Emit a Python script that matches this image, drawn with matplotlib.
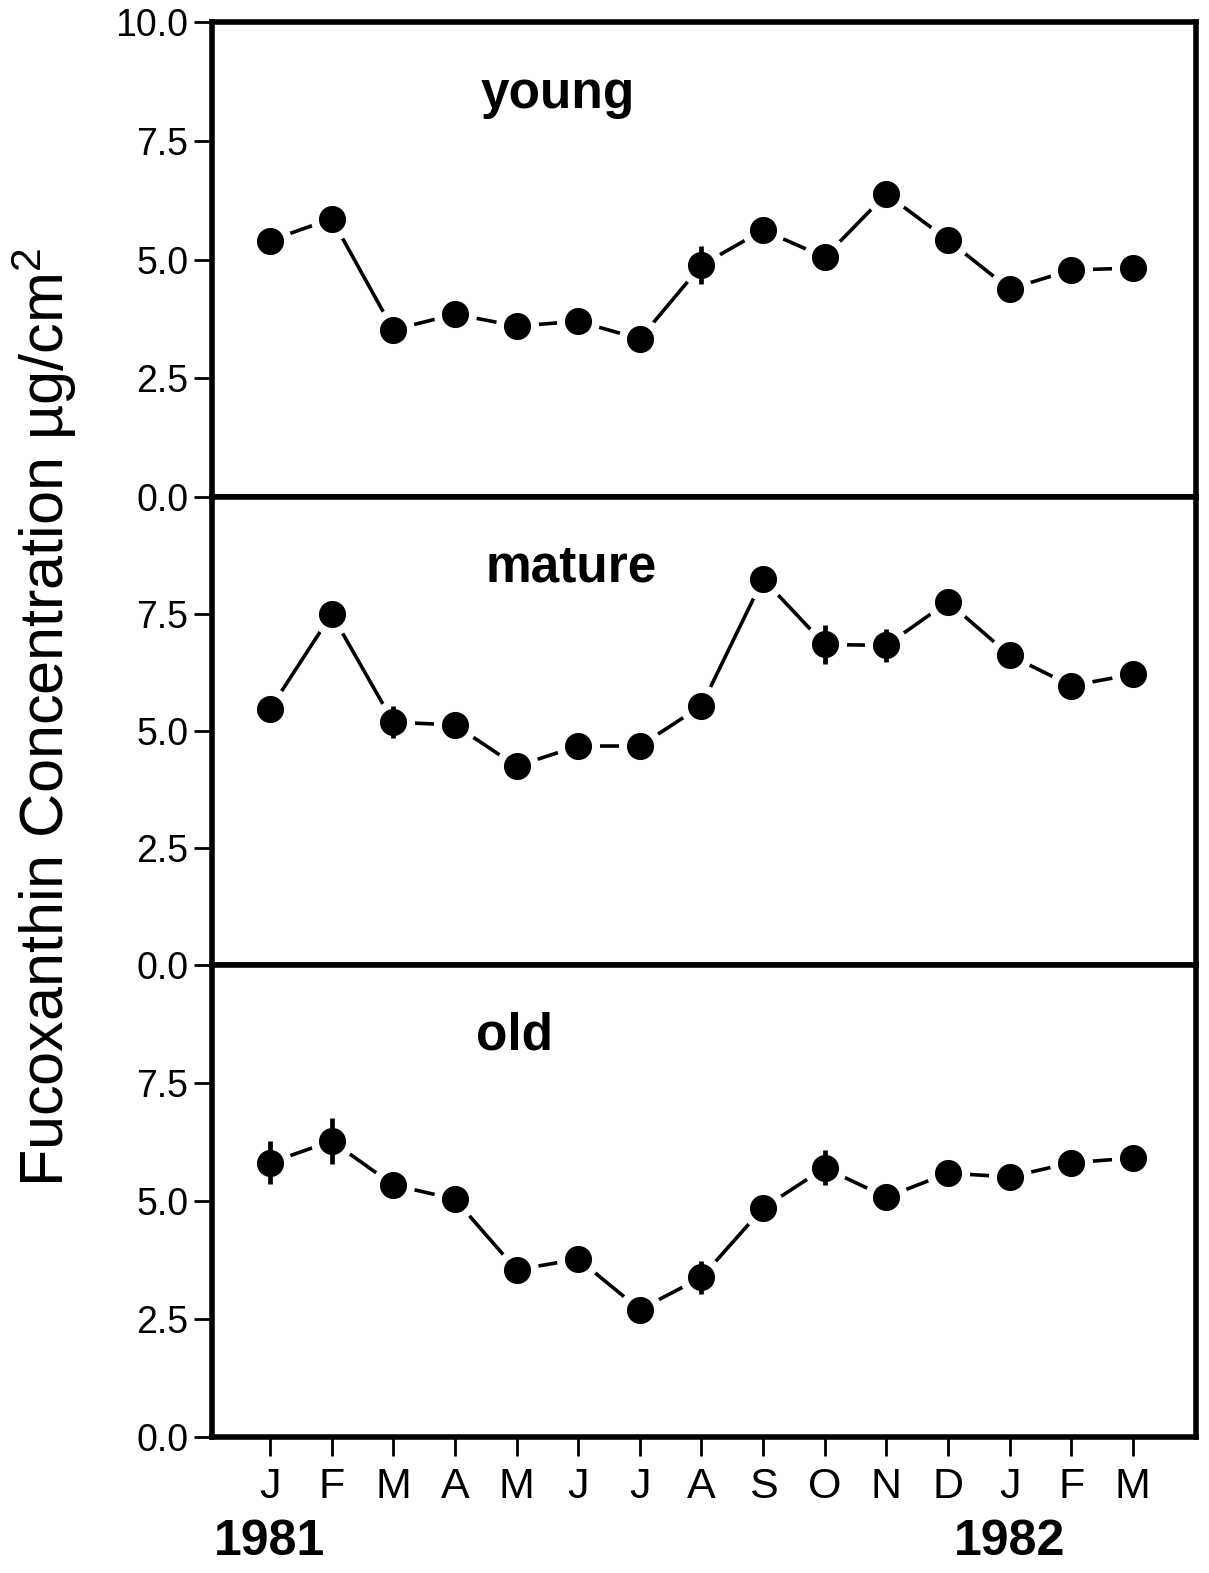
import numpy as np
import matplotlib
matplotlib.use("Agg")
import matplotlib.pyplot as plt
import matplotlib.transforms as mtransforms

plt.rcParams['font.family'] = ['Liberation Sans', 'DejaVu Sans']
plt.rcParams['mathtext.default'] = 'regular'

# --- data ---
months = ['J', 'F', 'M', 'A', 'M', 'J', 'J', 'A', 'S', 'O', 'N', 'D', 'J', 'F', 'M']
years = ['1981', '1982']
year_at = [0, 12]

young = [5.40, 5.86, 3.52, 3.85, 3.60, 3.70, 3.33, 4.88, 5.62, 5.05, 6.38, 5.41, 4.38, 4.78, 4.82]
young_err = [0, 0, 0, 0, 0, 0, 0, 0.40, 0, 0, 0, 0, 0, 0, 0]

mature = [5.47, 7.50, 5.19, 5.13, 4.25, 4.68, 4.68, 5.54, 8.25, 6.85, 6.83, 7.76, 6.62, 5.97, 6.21]
mature_err = [0, 0, 0.34, 0, 0, 0, 0, 0, 0, 0.42, 0.36, 0, 0, 0, 0]

old = [5.81, 6.27, 5.34, 5.04, 3.54, 3.77, 2.70, 3.38, 4.85, 5.70, 5.08, 5.59, 5.51, 5.81, 5.91]
old_err = [0.46, 0.48, 0, 0, 0, 0, 0, 0.35, 0, 0.37, 0.20, 0, 0, 0, 0]

panels = [('young', young, young_err, 4.67),
          ('mature', mature, mature_err, 4.88),
          ('old', old, old_err, 3.96)]

x = np.arange(len(months))

fig = plt.figure(figsize=(12.09, 15.73), dpi=100, facecolor='white')
left, right = 0.1754, 0.989
bottoms = [0.684, 0.3865, 0.0865]
tops = [0.986, 0.684, 0.3865]

axes = []
for i, (name, vals, errs, lx) in enumerate(panels):
    ax = fig.add_axes([left, bottoms[i], right - left, tops[i] - bottoms[i]])
    axes.append(ax)
    ax.plot(x, vals, color='black', lw=2.6, zorder=1)
    # white halo leaves the small gap between line and dot
    ax.plot(x, vals, 'o', ms=30, color='white', mec='white', zorder=2)
    errs = np.array(errs)
    has = errs > 0
    ax.errorbar(x[has], np.array(vals)[has], yerr=errs[has], fmt='none',
                ecolor='black', elinewidth=3.4, capsize=0, zorder=3)
    ax.plot(x, vals, 'o', ms=18.5, color='black', mec='black', zorder=4)

    ax.text(lx, 8.2, name, ha='center', va='baseline', fontsize=37,
            fontweight='bold')

    ax.set_xlim(-0.94, 15.02)
    ax.set_ylim(0, 10)
    yt = [0, 2.5, 5.0, 7.5, 10.0] if i == 0 else [0, 2.5, 5.0, 7.5]
    ax.set_yticks(yt)
    ax.set_yticklabels([f'{v:.1f}' for v in yt])
    ax.tick_params(axis='y', direction='out', length=13, width=2, pad=4,
                   labelsize=27)
    for s in ax.spines.values():
        s.set_linewidth(4)
    if i < 2:
        ax.tick_params(axis='x', bottom=False, labelbottom=False)
    else:
        ax.set_xticks(x)
        ax.set_xticklabels(months)
        ax.tick_params(axis='x', direction='out', length=14, width=2, pad=8,
                       labelsize=31)

ax3 = axes[2]
trans = mtransforms.blended_transform_factory(ax3.transData, ax3.transAxes)
for yr, pos in zip(years, year_at):
    ax3.text(pos, -0.25, yr, transform=trans, ha='center', va='baseline',
             fontsize=36, fontweight='bold')

fig.text(0.037, 0.544, 'Fucoxanthin Concentration µg/cm$^2$', rotation=90,
         ha='center', va='center', fontsize=44)

fig.savefig('out.png', dpi=100, facecolor='white')
